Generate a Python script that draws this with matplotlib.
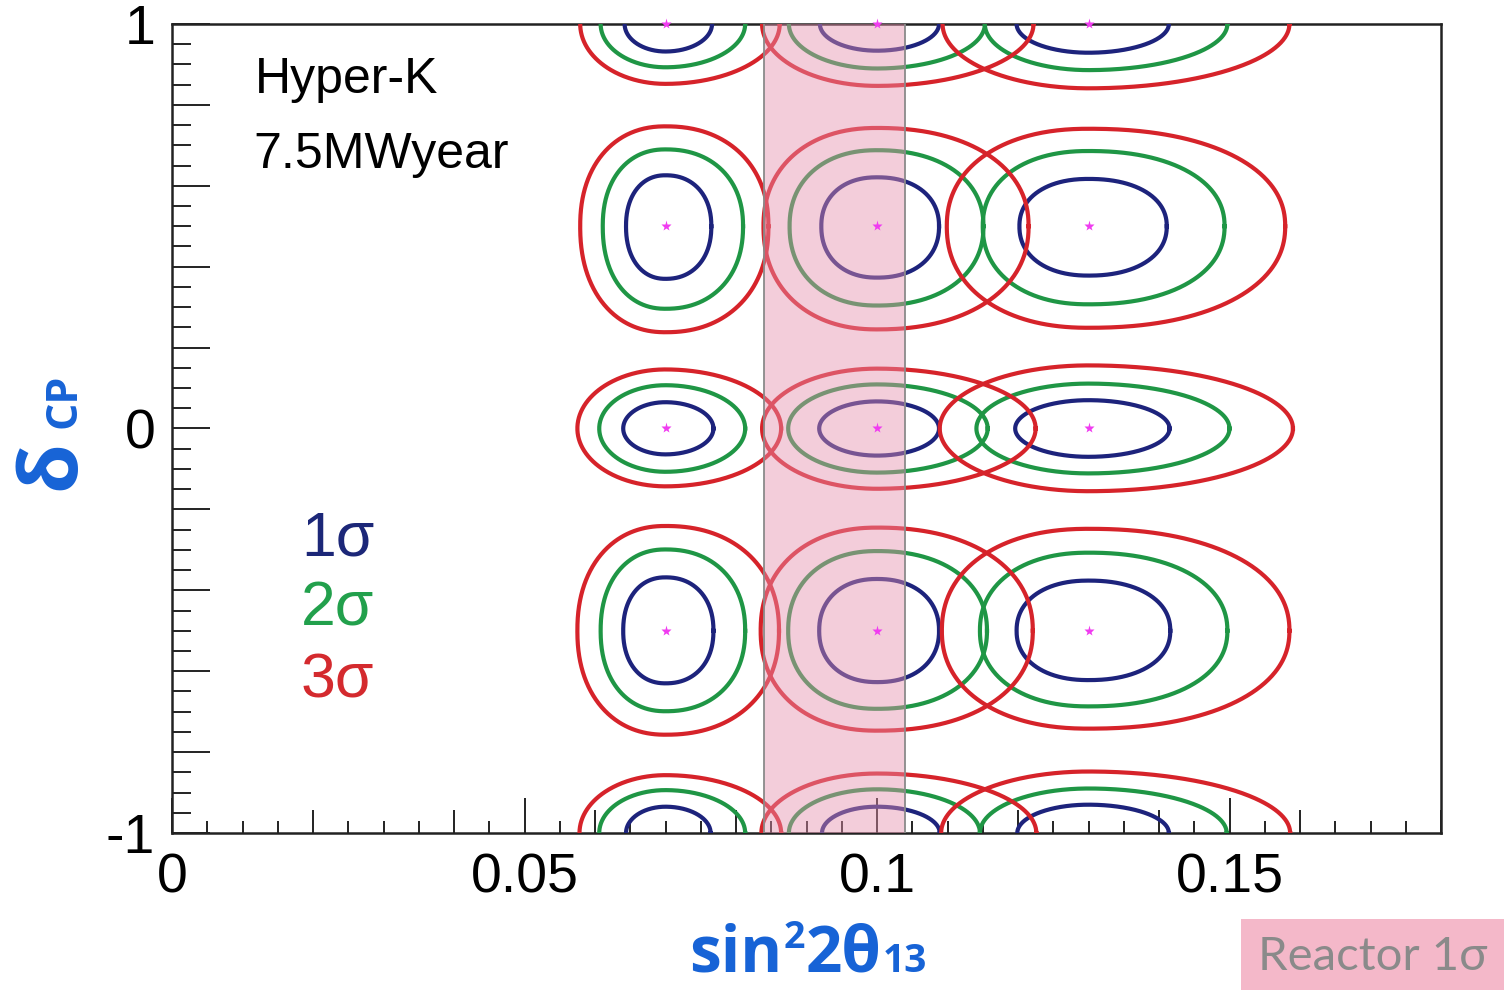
import numpy as np
import matplotlib
matplotlib.use("Agg")
import matplotlib.pyplot as plt

plt.rcParams['font.family'] = ['Liberation Sans', 'DejaVu Sans']

# true points (sin^2 2theta13, deltaCP/pi)
true_s2t = [0.07, 0.10, 0.13]
true_dcp = [1.0, 0.5, 0.0, -0.5, -1.0]

# contour extents: [x_lo, x_hi, y_lo, y_hi] per row (dcp) and per true s2t
sigma1_box = [
    [[0.0642, 0.0766, 0.932, 1.068], [0.0919, 0.1088, 0.934, 1.066], [0.1198, 0.1414, 0.929, 1.071]],
    [[0.0644, 0.0765, 0.370, 0.626], [0.0921, 0.1088, 0.373, 0.621], [0.1202, 0.1411, 0.378, 0.617]],
    [[0.0640, 0.0768, -0.064, 0.065], [0.0918, 0.1088, -0.067, 0.067], [0.1196, 0.1415, -0.070, 0.070]],
    [[0.0640, 0.0768, -0.630, -0.368], [0.0918, 0.1088, -0.627, -0.372], [0.1198, 0.1416, -0.622, -0.376]],
    [[0.0644, 0.0764, -1.065, -0.935], [0.0922, 0.1089, -1.065, -0.935], [0.1199, 0.1414, -1.070, -0.930]],
]
sigma2_box = [
    [[0.0608, 0.0813, 0.893, 1.107], [0.0875, 0.1153, 0.890, 1.110], [0.1153, 0.1497, 0.886, 1.114]],
    [[0.0611, 0.0810, 0.296, 0.690], [0.0876, 0.1151, 0.304, 0.688], [0.1150, 0.1493, 0.307, 0.686]],
    [[0.0606, 0.0813, -0.107, 0.107], [0.0874, 0.1157, -0.109, 0.109], [0.1141, 0.1500, -0.111, 0.111]],
    [[0.0608, 0.0813, -0.699, -0.299], [0.0874, 0.1156, -0.693, -0.303], [0.1146, 0.1497, -0.687, -0.307]],
    [[0.0606, 0.0813, -1.106, -0.894], [0.0875, 0.1146, -1.108, -0.892], [0.1146, 0.1496, -1.110, -0.890]],
]
sigma3_box = [
    [[0.0579, 0.0862, 0.852, 1.148], [0.0837, 0.1222, 0.847, 1.153], [0.1093, 0.1585, 0.841, 1.159]],
    [[0.0579, 0.0846, 0.238, 0.747], [0.0839, 0.1215, 0.245, 0.743], [0.1099, 0.1579, 0.249, 0.741]],
    [[0.0575, 0.0864, -0.143, 0.146], [0.0837, 0.1225, -0.149, 0.148], [0.1089, 0.1590, -0.155, 0.156]],
    [[0.0575, 0.0861, -0.757, -0.241], [0.0835, 0.1221, -0.747, -0.245], [0.1092, 0.1585, -0.742, -0.248]],
    [[0.0578, 0.0864, -1.143, -0.857], [0.0836, 0.1226, -1.147, -0.853], [0.1091, 0.1586, -1.152, -0.848]],
]
reactor_lo, reactor_hi = 0.084, 0.104

sigma_labels = ['1σ', '2σ', '3σ']
line_colors = ['#1d237c', '#1f9645', '#d6232a']
text_colors = ['#1c2778', '#22a04c', '#d42a2e']

W, H = 1508, 990
fig = plt.figure(figsize=(W / 100, H / 100), dpi=100)
ax = fig.add_axes([172 / W, 1 - 833 / H, (1441 - 172) / W, (833 - 24) / H])


def blob(xc, yc, box, p=2.0, n=600):
    xlo, xhi, ylo, yhi = box
    t = np.linspace(0, 2 * np.pi, n)
    c, s = np.cos(t), np.sin(t)
    ax_ = np.where(c >= 0, xhi - xc, xc - xlo)
    ay_ = np.where(s >= 0, yhi - yc, yc - ylo)
    x = xc + ax_ * np.sign(c) * np.abs(c) ** (2 / p)
    y = yc + ay_ * np.sign(s) * np.abs(s) ** (2 / p)
    return x, y


for boxes, col in zip([sigma1_box, sigma2_box, sigma3_box], line_colors):
    for i, yc in enumerate(true_dcp):
        p = 2.2 if abs(yc) == 0.5 else 2.0
        for j, xc in enumerate(true_s2t):
            x, y = blob(xc, yc, boxes[i][j], p)
            ax.plot(x, y, color=col, lw=3.0, zorder=3)

# reactor band drawn on top
ax.axvspan(reactor_lo, reactor_hi, color='#e690ad', alpha=0.45, lw=0, zorder=5)
ax.axvline(reactor_lo, color='#8a8a8a', lw=1.3, zorder=6)
ax.axvline(reactor_hi, color='#8a8a8a', lw=1.3, zorder=6)

# -pi is the same point as +pi, only the upper copy carries a star
for yc in true_dcp[:-1]:
    ax.plot(true_s2t, [yc] * len(true_s2t), ls='none', marker='*', ms=8,
            color='#f03cf0', mec='none', zorder=7, clip_on=False)

ax.set_xlim(0, 0.18)
ax.set_ylim(-1, 1)

# ROOT-like ticks: x every 0.005, y every 0.05
xt = [k * 0.005 for k in range(37)]
yt = [-1 + k * 0.05 for k in range(41)]
ax.set_xticks(xt)
ax.set_yticks(yt)
ax.set_xticklabels([('0' if k == 0 else f'{k * 0.005:g}') if k % 10 == 0 else '' for k in range(37)])
ax.set_yticklabels([{0: '-1', 20: '0', 40: '1'}.get(k, '') for k in range(41)])
ax.tick_params(axis='both', direction='in', width=1.4, color='#222', labelsize=40,
               top=False, right=False)
ax.tick_params(axis='x', pad=14)
ax.tick_params(axis='y', pad=12)
for k, tk in enumerate(ax.xaxis.get_major_ticks()):
    tk.tick1line.set_markersize(25 if k % 10 == 0 else (16.5 if k % 4 == 0 else 8.6))
for k, tk in enumerate(ax.yaxis.get_major_ticks()):
    tk.tick1line.set_markersize(27 if k % 4 == 0 else 13.7)
for sp in ax.spines.values():
    sp.set_linewidth(1.8)
    sp.set_color('#222')

# labels inside the frame
fig.text(255 / W, 1 - 93 / H, 'Hyper-K', fontsize=36, va='baseline', ha='left')
fig.text(253 / W, 1 - 168 / H, '7.5MWyear', fontsize=36, va='baseline', ha='left')
for k, (lab, col) in enumerate(zip(sigma_labels, text_colors)):
    fig.text(301 / W, 1 - (555 + 71 * k) / H, lab, fontsize=45, color=col,
             va='baseline', ha='left')

blue = '#1763d6'
bold = dict(color=blue, fontweight='bold', family=['Open Sans', 'DejaVu Sans'])
renderer = fig.canvas.get_renderer()


def run_text(x0, y0, pieces):
    x = x0
    for s, size, dy in pieces:
        t = fig.text(x / W, 1 - (y0 - dy) / H, s, fontsize=size, va='baseline', ha='left', **bold)
        x = t.get_window_extent(renderer).x1 + 1


run_text(689, 972, [('sin', 46, 0), ('2', 27, 24), ('2θ', 46, 0), ('13', 28, 0)])

# y label: delta + small CP, rotated
fig.text(74 / W, 1 - 490 / H, 'δ', fontsize=58, rotation=90, rotation_mode='anchor',
         va='baseline', ha='left', **bold)
fig.text(75 / W, 1 - 428 / H, 'CP', fontsize=31, rotation=90, rotation_mode='anchor',
         va='baseline', ha='left', **bold)

fig.text(1258 / W, 1 - 970 / H, 'Reactor 1σ', fontsize=34, color='#8a8a8a',
         family=['Lato', 'DejaVu Sans'], va='baseline', ha='left',
         bbox=dict(boxstyle='square,pad=0.35', fc='#f4b8c9', ec='none'))

fig.savefig('out.png', dpi=100)
